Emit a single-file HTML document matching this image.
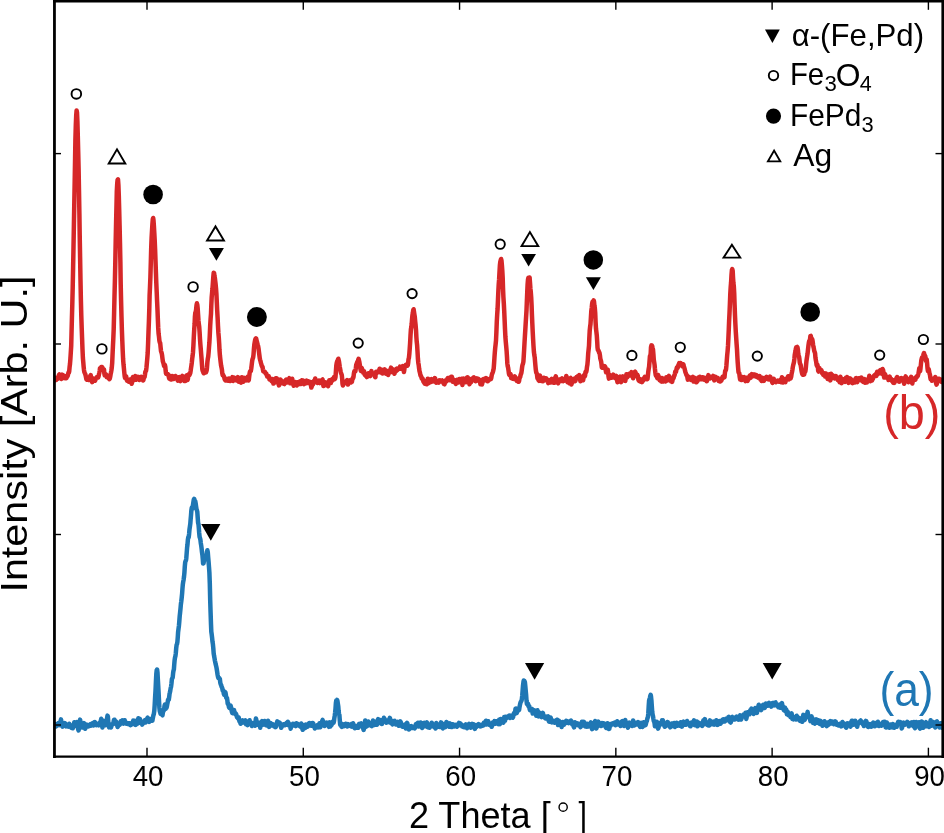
<!DOCTYPE html>
<html><head><meta charset="utf-8">
<style>
html,body{margin:0;padding:0;background:#fff;}
body{width:944px;height:833px;overflow:hidden;}
svg{display:block;will-change:transform;}
text{font-family:"Liberation Sans",sans-serif;}
</style></head>
<body>
<svg width="944" height="833" viewBox="0 0 944 833">
<defs><clipPath id="ax"><rect x="54.45" y="1.3" width="888.25" height="755.3"/></clipPath></defs>
<rect x="0" y="0" width="944" height="833" fill="#fff"/>
<g clip-path="url(#ax)">
<polyline points="52.0,379.2 52.4,379.2 52.8,378.2 53.2,377.2 53.6,377.0 54.0,377.3 54.4,379.2 54.8,380.4 55.1,378.7 55.5,378.1 55.9,379.4 56.3,379.8 56.7,378.6 57.1,377.6 57.5,378.7 57.9,378.8 58.3,377.2 58.7,376.0 59.0,375.0 59.4,374.5 59.8,375.2 60.2,376.3 60.6,377.0 61.0,378.3 61.4,378.9 61.8,376.7 62.2,374.6 62.6,376.0 63.0,378.1 63.3,377.4 63.7,376.0 64.1,375.8 64.5,375.9 64.9,377.0 65.3,378.2 65.7,377.3 66.1,377.6 66.5,378.1 66.9,376.8 67.2,376.2 67.6,376.2 68.0,374.6 68.4,372.6 68.8,372.8 69.2,371.4 69.6,367.0 70.0,363.9 70.4,358.8 70.8,352.3 71.2,346.0 71.5,334.2 71.9,318.7 72.3,304.3 72.7,287.8 73.1,268.1 73.5,247.0 73.9,224.6 74.3,202.7 74.7,180.6 75.1,158.1 75.4,139.5 75.8,125.4 76.2,115.5 76.6,110.5 77.0,112.4 77.4,121.4 77.8,135.7 78.2,151.7 78.6,168.6 79.0,190.5 79.4,213.8 79.7,234.9 80.1,257.4 80.5,280.2 80.9,300.3 81.3,315.9 81.7,327.9 82.1,338.7 82.5,349.4 82.9,358.0 83.3,362.5 83.6,366.2 84.0,370.1 84.4,372.3 84.8,373.1 85.2,373.8 85.6,375.3 86.0,377.2 86.4,379.3 86.8,379.6 87.2,379.1 87.6,379.1 87.9,379.3 88.3,379.9 88.7,380.0 89.1,378.9 89.5,378.0 89.9,377.6 90.3,375.8 90.7,375.2 91.1,377.0 91.5,378.2 91.8,380.7 92.2,382.2 92.6,379.6 93.0,378.4 93.4,379.9 93.8,380.4 94.2,379.7 94.6,379.7 95.0,380.8 95.4,380.0 95.8,378.2 96.1,378.3 96.5,378.0 96.9,377.1 97.3,376.9 97.7,376.9 98.1,377.4 98.5,376.6 98.9,374.6 99.3,372.9 99.7,370.8 100.0,368.1 100.4,368.0 100.8,368.1 101.2,367.0 101.6,367.1 102.0,367.0 102.4,367.6 102.8,368.5 103.2,369.7 103.6,369.4 104.0,369.5 104.3,373.2 104.7,375.3 105.1,374.3 105.5,374.0 105.9,374.3 106.3,375.5 106.7,377.3 107.1,377.3 107.5,376.7 107.9,376.5 108.2,375.9 108.6,376.9 109.0,378.8 109.4,379.1 109.8,378.6 110.2,376.8 110.6,374.3 111.0,372.5 111.4,370.4 111.8,367.4 112.2,362.8 112.5,355.8 112.9,347.0 113.3,338.9 113.7,329.1 114.1,313.2 114.5,296.0 114.9,280.6 115.3,262.2 115.7,240.8 116.1,222.0 116.5,204.9 116.8,191.3 117.2,183.8 117.6,179.8 118.0,179.4 118.4,184.9 118.8,195.7 119.2,209.7 119.6,225.9 120.0,243.3 120.4,263.3 120.7,284.1 121.1,301.4 121.5,316.7 121.9,330.2 122.3,340.9 122.7,350.7 123.1,359.0 123.5,364.3 123.9,368.3 124.3,372.6 124.7,376.2 125.0,377.7 125.4,377.4 125.8,376.1 126.2,376.5 126.6,379.5 127.0,380.6 127.4,379.8 127.8,380.2 128.2,381.2 128.6,381.6 128.9,380.9 129.3,380.5 129.7,380.4 130.1,379.5 130.5,380.2 130.9,381.5 131.3,382.5 131.7,383.8 132.1,382.2 132.5,378.0 132.9,377.2 133.2,379.0 133.6,378.9 134.0,379.6 134.4,379.8 134.8,376.7 135.2,376.0 135.6,378.7 136.0,379.8 136.4,379.5 136.8,379.0 137.1,377.5 137.5,376.9 137.9,377.7 138.3,377.1 138.7,377.0 139.1,379.1 139.5,380.0 139.9,379.3 140.3,377.9 140.7,377.0 141.1,376.8 141.4,377.4 141.8,378.1 142.2,378.2 142.6,378.9 143.0,380.5 143.4,380.2 143.8,377.9 144.2,377.4 144.6,377.0 145.0,374.5 145.3,371.9 145.7,371.3 146.1,370.6 146.5,367.3 146.9,362.7 147.3,358.3 147.7,353.0 148.1,343.4 148.5,331.9 148.9,321.6 149.3,308.7 149.6,295.7 150.0,286.9 150.4,277.1 150.8,262.7 151.2,248.0 151.6,237.8 152.0,230.9 152.4,224.1 152.8,219.2 153.2,218.0 153.5,220.4 153.9,226.0 154.3,232.9 154.7,240.1 155.1,249.3 155.5,260.5 155.9,272.2 156.3,283.0 156.7,292.0 157.1,301.5 157.5,310.1 157.8,318.0 158.2,327.7 158.6,333.8 159.0,336.7 159.4,340.8 159.8,342.5 160.2,343.1 160.6,347.2 161.0,351.1 161.4,352.3 161.7,353.2 162.1,355.4 162.5,358.7 162.9,361.6 163.3,362.7 163.7,364.2 164.1,366.1 164.5,365.8 164.9,365.0 165.3,366.7 165.7,371.1 166.0,373.6 166.4,373.9 166.8,374.1 167.2,374.0 167.6,374.2 168.0,374.3 168.4,374.8 168.8,376.7 169.2,378.6 169.6,378.2 169.9,376.7 170.3,375.8 170.7,377.2 171.1,379.6 171.5,379.5 171.9,378.0 172.3,376.7 172.7,376.2 173.1,377.8 173.5,379.0 173.9,378.1 174.2,377.5 174.6,377.9 175.0,377.2 175.4,376.0 175.8,376.3 176.2,377.6 176.6,378.4 177.0,378.3 177.4,379.6 177.8,380.6 178.1,378.5 178.5,377.4 178.9,378.1 179.3,377.7 179.7,377.2 180.1,379.6 180.5,381.1 180.9,379.1 181.3,377.1 181.7,376.9 182.1,377.1 182.4,375.9 182.8,376.6 183.2,378.5 183.6,378.4 184.0,379.9 184.4,381.0 184.8,379.7 185.2,380.2 185.6,380.8 186.0,378.4 186.3,375.8 186.7,375.4 187.1,377.7 187.5,380.1 187.9,378.8 188.3,375.6 188.7,374.3 189.1,374.7 189.5,374.9 189.9,374.0 190.3,372.9 190.6,371.1 191.0,368.2 191.4,365.6 191.8,362.6 192.2,358.8 192.6,355.9 193.0,352.2 193.4,345.6 193.8,337.0 194.2,329.8 194.6,324.0 194.9,317.0 195.3,312.8 195.7,312.0 196.1,309.6 196.5,305.5 196.9,303.3 197.3,304.8 197.7,308.6 198.1,314.8 198.5,321.0 198.8,323.9 199.2,326.6 199.6,332.1 200.0,339.1 200.4,344.7 200.8,349.4 201.2,354.4 201.6,359.3 202.0,365.1 202.4,369.7 202.8,371.0 203.1,371.5 203.5,372.8 203.9,373.3 204.3,373.1 204.7,372.6 205.1,371.0 205.5,371.1 205.9,372.4 206.3,371.6 206.7,370.2 207.0,367.4 207.4,362.0 207.8,358.7 208.2,356.8 208.6,352.6 209.0,347.4 209.4,342.3 209.8,334.8 210.2,325.6 210.6,318.9 211.0,313.8 211.3,305.5 211.7,297.1 212.1,292.6 212.5,288.3 212.9,282.6 213.3,276.9 213.7,272.8 214.1,273.1 214.5,276.2 214.9,278.2 215.2,280.7 215.6,284.0 216.0,288.1 216.4,293.6 216.8,302.1 217.2,310.7 217.6,317.7 218.0,326.2 218.4,333.0 218.8,337.7 219.2,343.7 219.5,350.0 219.9,355.3 220.3,359.0 220.7,362.4 221.1,365.6 221.5,367.4 221.9,369.6 222.3,373.4 222.7,375.3 223.1,374.8 223.4,375.7 223.8,376.3 224.2,377.1 224.6,378.9 225.0,379.9 225.4,380.4 225.8,379.7 226.2,379.5 226.6,379.2 227.0,379.0 227.4,380.1 227.7,380.6 228.1,380.7 228.5,379.7 228.9,378.5 229.3,379.3 229.7,380.9 230.1,381.0 230.5,379.7 230.9,378.5 231.3,378.4 231.6,379.3 232.0,378.1 232.4,377.2 232.8,379.9 233.2,380.9 233.6,378.4 234.0,377.5 234.4,378.0 234.8,378.8 235.2,379.8 235.6,379.3 235.9,379.5 236.3,380.4 236.7,380.3 237.1,380.1 237.5,378.8 237.9,377.1 238.3,378.6 238.7,381.7 239.1,381.7 239.5,380.8 239.8,380.9 240.2,380.9 240.6,382.2 241.0,382.6 241.4,379.5 241.8,377.2 242.2,377.4 242.6,378.7 243.0,381.4 243.4,381.7 243.8,379.0 244.1,377.9 244.5,380.2 244.9,380.4 245.3,378.1 245.7,378.6 246.1,380.1 246.5,380.3 246.9,379.2 247.3,377.8 247.7,376.8 248.0,377.9 248.4,380.5 248.8,379.9 249.2,376.6 249.6,373.4 250.0,371.4 250.4,371.4 250.8,371.0 251.2,368.9 251.6,365.7 252.0,362.3 252.3,360.1 252.7,358.6 253.1,357.7 253.5,354.8 253.9,349.1 254.3,344.6 254.7,342.4 255.1,340.2 255.5,338.8 255.9,338.4 256.2,338.7 256.6,340.5 257.0,342.2 257.4,343.7 257.8,345.2 258.2,346.5 258.6,348.9 259.0,352.2 259.4,355.4 259.8,358.5 260.2,360.1 260.5,361.1 260.9,362.9 261.3,364.1 261.7,365.6 262.1,366.5 262.5,366.7 262.9,369.3 263.3,371.4 263.7,371.5 264.1,371.5 264.4,371.5 264.8,371.6 265.2,372.5 265.6,373.4 266.0,373.7 266.4,373.8 266.8,375.3 267.2,376.4 267.6,376.2 268.0,376.7 268.4,376.7 268.7,376.2 269.1,377.9 269.5,379.4 269.9,379.7 270.3,379.5 270.7,378.7 271.1,379.4 271.5,381.0 271.9,381.4 272.3,380.0 272.7,379.1 273.0,381.3 273.4,383.6 273.8,383.4 274.2,381.1 274.6,379.9 275.0,381.5 275.4,380.1 275.8,378.2 276.2,379.3 276.6,378.9 276.9,378.4 277.3,380.8 277.7,382.7 278.1,382.2 278.5,383.0 278.9,385.4 279.3,385.0 279.7,382.5 280.1,380.5 280.5,379.5 280.9,380.3 281.2,382.2 281.6,382.7 282.0,383.0 282.4,382.8 282.8,381.5 283.2,381.8 283.6,383.3 284.0,383.9 284.4,384.1 284.8,383.0 285.1,382.0 285.5,381.6 285.9,379.7 286.3,379.5 286.7,381.6 287.1,382.5 287.5,381.2 287.9,379.7 288.3,380.0 288.7,380.4 289.1,378.9 289.4,378.2 289.8,380.7 290.2,383.3 290.6,382.8 291.0,381.5 291.4,382.2 291.8,381.3 292.2,378.8 292.6,380.5 293.0,383.3 293.3,384.6 293.7,385.7 294.1,385.1 294.5,383.6 294.9,383.4 295.3,383.1 295.7,382.0 296.1,382.4 296.5,384.8 296.9,385.4 297.3,383.3 297.6,382.2 298.0,383.4 298.4,384.2 298.8,384.2 299.2,383.6 299.6,381.9 300.0,381.3 300.4,382.5 300.8,384.0 301.2,383.3 301.5,380.4 301.9,380.3 302.3,381.7 302.7,380.7 303.1,380.6 303.5,383.1 303.9,384.1 304.3,383.1 304.7,382.8 305.1,383.3 305.5,383.5 305.8,383.1 306.2,381.3 306.6,380.7 307.0,381.6 307.4,382.0 307.8,383.0 308.2,382.5 308.6,381.3 309.0,381.6 309.4,382.5 309.7,382.9 310.1,381.8 310.5,382.1 310.9,385.2 311.3,387.6 311.7,386.6 312.1,383.9 312.5,383.7 312.9,384.5 313.3,382.5 313.7,381.0 314.0,382.1 314.4,382.4 314.8,380.4 315.2,378.5 315.6,379.7 316.0,381.7 316.4,381.6 316.8,381.7 317.2,382.9 317.6,383.0 317.9,382.6 318.3,382.1 318.7,381.2 319.1,380.5 319.5,381.4 319.9,383.1 320.3,382.5 320.7,381.0 321.1,381.1 321.5,382.2 321.9,382.0 322.2,379.8 322.6,379.5 323.0,382.7 323.4,386.1 323.8,385.2 324.2,383.2 324.6,384.5 325.0,385.3 325.4,383.0 325.8,382.4 326.1,383.9 326.5,384.1 326.9,383.1 327.3,383.2 327.7,385.6 328.1,386.2 328.5,384.5 328.9,382.1 329.3,380.2 329.7,381.4 330.1,382.5 330.4,383.0 330.8,383.0 331.2,380.8 331.6,379.6 332.0,380.6 332.4,380.7 332.8,380.0 333.2,379.7 333.6,378.0 334.0,377.2 334.3,378.9 334.7,379.2 335.1,378.6 335.5,377.0 335.9,371.4 336.3,365.7 336.7,363.1 337.1,361.6 337.5,361.0 337.9,359.8 338.3,358.7 338.6,359.8 339.0,361.5 339.4,364.3 339.8,367.1 340.2,369.2 340.6,371.4 341.0,373.1 341.4,373.9 341.8,375.1 342.2,379.1 342.5,383.8 342.9,385.5 343.3,384.7 343.7,382.8 344.1,382.1 344.5,383.2 344.9,382.6 345.3,381.5 345.7,381.5 346.1,381.5 346.5,381.3 346.8,380.7 347.2,380.1 347.6,382.1 348.0,384.6 348.4,383.1 348.8,381.8 349.2,382.8 349.6,382.2 350.0,380.4 350.4,381.0 350.8,382.5 351.1,382.0 351.5,382.0 351.9,381.9 352.3,379.7 352.7,378.1 353.1,378.2 353.5,377.1 353.9,373.4 354.3,371.4 354.7,371.7 355.0,371.6 355.4,371.2 355.8,368.5 356.2,364.9 356.6,364.0 357.0,362.8 357.4,361.6 357.8,361.7 358.2,359.9 358.6,358.9 359.0,360.4 359.3,361.7 359.7,364.1 360.1,366.9 360.5,369.4 360.9,370.9 361.3,369.5 361.7,368.0 362.1,368.9 362.5,369.7 362.9,370.9 363.2,372.7 363.6,371.8 364.0,371.2 364.4,373.5 364.8,374.9 365.2,375.1 365.6,375.6 366.0,375.9 366.4,376.3 366.8,377.1 367.2,376.8 367.5,376.2 367.9,374.9 368.3,373.2 368.7,373.5 369.1,374.6 369.5,374.0 369.9,374.2 370.3,376.1 370.7,375.0 371.1,371.8 371.4,371.1 371.8,372.8 372.2,373.5 372.6,373.3 373.0,373.4 373.4,373.7 373.8,373.9 374.2,373.3 374.6,374.0 375.0,376.9 375.4,377.2 375.7,373.7 376.1,371.7 376.5,372.6 376.9,373.1 377.3,372.0 377.7,371.8 378.1,372.2 378.5,371.1 378.9,370.7 379.3,370.2 379.6,368.7 380.0,369.1 380.4,371.3 380.8,372.4 381.2,371.2 381.6,369.6 382.0,371.1 382.4,373.5 382.8,373.5 383.2,371.8 383.6,371.3 383.9,371.9 384.3,370.8 384.7,369.3 385.1,370.9 385.5,373.2 385.9,373.7 386.3,372.9 386.7,372.2 387.1,371.9 387.5,371.0 387.8,372.2 388.2,374.9 388.6,373.4 389.0,370.7 389.4,370.6 389.8,372.0 390.2,372.2 390.6,369.6 391.0,367.6 391.4,368.9 391.8,370.2 392.1,371.3 392.5,372.2 392.9,371.9 393.3,370.5 393.7,369.5 394.1,371.7 394.5,373.7 394.9,372.3 395.3,370.5 395.7,371.0 396.0,371.2 396.4,369.1 396.8,368.7 397.2,370.1 397.6,370.0 398.0,369.0 398.4,368.7 398.8,368.6 399.2,368.5 399.6,367.6 400.0,366.7 400.3,368.0 400.7,368.7 401.1,367.1 401.5,367.4 401.9,367.8 402.3,366.7 402.7,366.2 403.1,366.7 403.5,369.4 403.9,372.0 404.2,370.5 404.6,367.5 405.0,366.2 405.4,365.3 405.8,364.9 406.2,365.5 406.6,364.5 407.0,365.0 407.4,365.7 407.8,365.2 408.2,362.6 408.5,359.4 408.9,358.0 409.3,354.3 409.7,349.0 410.1,343.2 410.5,335.7 410.9,329.5 411.3,327.2 411.7,323.8 412.1,318.6 412.4,315.4 412.8,313.2 413.2,310.3 413.6,309.2 414.0,311.8 414.4,314.5 414.8,316.9 415.2,321.4 415.6,325.1 416.0,329.9 416.4,337.3 416.7,341.6 417.1,344.9 417.5,351.3 417.9,358.5 418.3,362.8 418.7,365.0 419.1,368.4 419.5,371.2 419.9,372.5 420.3,374.6 420.6,375.8 421.0,376.1 421.4,377.1 421.8,378.6 422.2,379.0 422.6,378.7 423.0,379.8 423.4,381.6 423.8,382.1 424.2,382.7 424.6,383.3 424.9,383.8 425.3,383.7 425.7,381.8 426.1,381.1 426.5,382.2 426.9,384.3 427.3,383.1 427.7,378.7 428.1,378.7 428.5,381.7 428.9,383.0 429.2,382.5 429.6,381.7 430.0,382.0 430.4,382.1 430.8,382.0 431.2,380.8 431.6,379.1 432.0,379.6 432.4,380.7 432.8,381.5 433.1,380.8 433.5,379.9 433.9,380.3 434.3,379.4 434.7,378.1 435.1,378.3 435.5,380.3 435.9,382.4 436.3,382.7 436.7,382.3 437.1,382.4 437.4,381.7 437.8,381.3 438.2,382.5 438.6,382.6 439.0,381.1 439.4,380.4 439.8,380.7 440.2,380.4 440.6,380.6 441.0,381.5 441.3,381.5 441.7,380.8 442.1,380.5 442.5,381.2 442.9,381.5 443.3,382.1 443.7,383.7 444.1,384.1 444.5,384.3 444.9,383.1 445.3,380.5 445.6,380.3 446.0,381.4 446.4,381.4 446.8,380.9 447.2,379.4 447.6,378.2 448.0,377.9 448.4,378.0 448.8,379.5 449.2,379.7 449.5,379.3 449.9,380.3 450.3,380.2 450.7,378.0 451.1,376.8 451.5,376.9 451.9,376.8 452.3,379.3 452.7,381.7 453.1,381.0 453.5,380.1 453.8,379.7 454.2,380.1 454.6,380.6 455.0,381.0 455.4,382.8 455.8,383.8 456.2,382.4 456.6,380.5 457.0,380.0 457.4,380.8 457.7,381.5 458.1,381.8 458.5,382.5 458.9,381.8 459.3,379.1 459.7,379.6 460.1,381.6 460.5,380.4 460.9,379.3 461.3,378.9 461.7,378.8 462.0,381.7 462.4,384.9 462.8,383.2 463.2,379.4 463.6,378.5 464.0,380.3 464.4,381.3 464.8,379.8 465.2,379.8 465.6,382.0 465.9,382.2 466.3,380.0 466.7,377.9 467.1,377.4 467.5,377.2 467.9,377.7 468.3,379.8 468.7,380.7 469.1,382.2 469.5,384.3 469.9,382.7 470.2,380.5 470.6,381.8 471.0,382.3 471.4,379.8 471.8,378.7 472.2,378.7 472.6,379.3 473.0,379.9 473.4,377.6 473.8,377.3 474.1,379.3 474.5,380.2 474.9,380.8 475.3,380.9 475.7,381.2 476.1,380.5 476.5,378.4 476.9,378.5 477.3,379.6 477.7,380.3 478.1,380.2 478.4,378.9 478.8,379.5 479.2,381.3 479.6,380.9 480.0,381.1 480.4,384.2 480.8,383.9 481.2,380.1 481.6,381.4 482.0,384.4 482.3,383.2 482.7,380.9 483.1,379.7 483.5,379.1 483.9,379.1 484.3,379.7 484.7,380.4 485.1,379.7 485.5,378.3 485.9,378.0 486.3,378.4 486.6,378.5 487.0,379.7 487.4,381.3 487.8,381.2 488.2,380.8 488.6,380.4 489.0,379.6 489.4,378.9 489.8,379.0 490.2,378.8 490.5,378.4 490.9,379.1 491.3,377.8 491.7,375.3 492.1,373.9 492.5,373.1 492.9,371.9 493.3,370.4 493.7,368.5 494.1,363.0 494.5,356.9 494.8,352.6 495.2,348.0 495.6,344.6 496.0,340.5 496.4,332.0 496.8,321.5 497.2,314.3 497.6,308.5 498.0,299.4 498.4,290.3 498.7,284.6 499.1,279.4 499.5,272.0 499.9,265.2 500.3,261.8 500.7,260.2 501.1,259.0 501.5,260.6 501.9,265.1 502.3,270.6 502.7,277.8 503.0,287.8 503.4,297.0 503.8,303.2 504.2,310.6 504.6,319.9 505.0,329.2 505.4,337.0 505.8,342.0 506.2,346.2 506.6,350.9 507.0,357.0 507.3,363.2 507.7,366.2 508.1,367.7 508.5,370.3 508.9,373.4 509.3,375.0 509.7,375.2 510.1,374.7 510.5,373.9 510.9,376.1 511.2,378.1 511.6,376.3 512.0,376.8 512.4,378.6 512.8,378.0 513.2,377.6 513.6,378.4 514.0,379.0 514.4,377.7 514.8,376.4 515.2,377.1 515.5,377.5 515.9,377.9 516.3,379.5 516.7,380.7 517.1,380.3 517.5,379.5 517.9,380.6 518.3,381.7 518.7,381.8 519.1,380.9 519.4,378.6 519.8,377.7 520.2,377.0 520.6,374.9 521.0,374.0 521.4,372.8 521.8,369.9 522.2,366.5 522.6,364.6 523.0,363.7 523.4,361.6 523.7,357.1 524.1,350.3 524.5,343.0 524.9,336.3 525.3,330.0 525.7,323.1 526.1,316.9 526.5,310.3 526.9,300.3 527.3,290.8 527.6,284.4 528.0,279.4 528.4,277.7 528.8,278.7 529.2,277.6 529.6,277.5 530.0,282.7 530.4,288.4 530.8,292.1 531.2,297.4 531.6,305.3 531.9,314.2 532.3,323.1 532.7,331.7 533.1,339.2 533.5,346.1 533.9,351.9 534.3,355.0 534.7,357.3 535.1,362.1 535.5,366.6 535.8,369.7 536.2,372.4 536.6,373.0 537.0,374.4 537.4,377.9 537.8,379.0 538.2,379.0 538.6,380.2 539.0,380.8 539.4,378.3 539.8,375.4 540.1,376.2 540.5,377.5 540.9,377.8 541.3,379.8 541.7,380.9 542.1,378.9 542.5,379.0 542.9,381.3 543.3,379.5 543.7,377.8 544.0,379.4 544.4,380.0 544.8,379.6 545.2,380.0 545.6,379.0 546.0,378.3 546.4,379.9 546.8,380.5 547.2,379.7 547.6,379.8 548.0,381.9 548.3,383.1 548.7,381.7 549.1,381.2 549.5,380.6 549.9,380.2 550.3,381.4 550.7,382.5 551.1,382.4 551.5,380.8 551.9,378.9 552.2,379.1 552.6,380.6 553.0,382.0 553.4,382.5 553.8,382.1 554.2,382.7 554.6,382.8 555.0,380.2 555.4,377.2 555.8,376.3 556.2,378.2 556.5,380.5 556.9,380.7 557.3,381.4 557.7,382.7 558.1,383.3 558.5,382.4 558.9,380.3 559.3,379.6 559.7,380.0 560.1,379.8 560.4,379.3 560.8,380.6 561.2,380.9 561.6,378.8 562.0,378.4 562.4,378.9 562.8,380.1 563.2,381.1 563.6,380.9 564.0,379.8 564.4,379.0 564.7,379.8 565.1,380.2 565.5,380.4 565.9,378.7 566.3,375.9 566.7,377.2 567.1,380.6 567.5,382.2 567.9,381.4 568.3,379.3 568.6,379.0 569.0,382.0 569.4,383.2 569.8,380.8 570.2,378.3 570.6,378.0 571.0,381.6 571.4,384.4 571.8,383.3 572.2,382.2 572.6,380.6 572.9,379.6 573.3,379.9 573.7,378.7 574.1,378.7 574.5,380.4 574.9,381.2 575.3,381.0 575.7,379.8 576.1,377.9 576.5,377.2 576.8,378.2 577.2,377.6 577.6,376.3 578.0,376.4 578.4,376.6 578.8,375.6 579.2,375.1 579.6,376.2 580.0,378.6 580.4,381.2 580.8,381.1 581.1,377.9 581.5,377.7 581.9,379.5 582.3,378.9 582.7,379.2 583.1,380.3 583.5,378.1 583.9,375.1 584.3,375.0 584.7,376.4 585.1,375.6 585.4,372.4 585.8,371.5 586.2,372.1 586.6,370.2 587.0,366.8 587.4,364.6 587.8,360.1 588.2,353.6 588.6,349.8 589.0,345.8 589.3,338.3 589.7,330.8 590.1,326.9 590.5,324.1 590.9,317.7 591.3,311.1 591.7,308.0 592.1,303.9 592.5,301.8 592.9,302.1 593.3,301.3 593.6,300.3 594.0,301.5 594.4,305.4 594.8,307.7 595.2,312.6 595.6,322.2 596.0,328.8 596.4,332.1 596.8,335.6 597.2,341.6 597.5,347.5 597.9,350.1 598.3,350.3 598.7,351.1 599.1,352.6 599.5,352.9 599.9,355.1 600.3,358.5 600.7,360.0 601.1,361.4 601.5,364.3 601.8,367.4 602.2,367.7 602.6,366.9 603.0,366.9 603.4,365.9 603.8,366.6 604.2,367.7 604.6,366.8 605.0,366.5 605.4,367.3 605.7,370.2 606.1,372.2 606.5,371.2 606.9,370.7 607.3,370.2 607.7,369.6 608.1,371.6 608.5,376.4 608.9,378.6 609.3,376.3 609.7,374.8 610.0,375.6 610.4,376.3 610.8,377.1 611.2,377.5 611.6,377.7 612.0,377.6 612.4,376.6 612.8,375.3 613.2,374.7 613.6,375.1 613.9,375.7 614.3,376.3 614.7,376.9 615.1,378.2 615.5,378.2 615.9,376.4 616.3,375.9 616.7,377.4 617.1,380.3 617.5,382.2 617.9,380.9 618.2,380.0 618.6,379.6 619.0,378.9 619.4,379.5 619.8,377.2 620.2,376.6 620.6,381.8 621.0,382.2 621.4,378.7 621.8,378.3 622.1,378.8 622.5,377.9 622.9,376.4 623.3,377.1 623.7,379.0 624.1,380.0 624.5,380.3 624.9,380.8 625.3,380.9 625.7,378.7 626.1,376.3 626.4,374.2 626.8,375.1 627.2,377.3 627.6,376.6 628.0,376.3 628.4,375.5 628.8,373.9 629.2,373.7 629.6,373.7 630.0,374.1 630.3,375.4 630.7,375.0 631.1,372.8 631.5,372.1 631.9,373.1 632.3,374.1 632.7,376.4 633.1,378.2 633.5,376.3 633.9,373.9 634.3,372.8 634.6,372.0 635.0,371.7 635.4,372.2 635.8,373.3 636.2,374.8 636.6,375.9 637.0,375.7 637.4,374.8 637.8,375.8 638.2,378.6 638.5,380.1 638.9,380.7 639.3,381.0 639.7,380.3 640.1,379.2 640.5,380.9 640.9,381.7 641.3,379.5 641.7,380.5 642.1,382.1 642.5,381.0 642.8,381.0 643.2,380.6 643.6,379.1 644.0,378.4 644.4,377.5 644.8,376.8 645.2,377.3 645.6,378.1 646.0,378.8 646.4,377.8 646.7,377.2 647.1,379.2 647.5,378.9 647.9,375.4 648.3,371.6 648.7,368.9 649.1,366.6 649.5,361.6 649.9,356.3 650.3,355.7 650.7,353.3 651.0,347.2 651.4,345.4 651.8,345.5 652.2,346.1 652.6,348.0 653.0,349.5 653.4,354.2 653.8,359.8 654.2,362.3 654.6,365.0 654.9,368.5 655.3,372.2 655.7,375.0 656.1,375.9 656.5,376.4 656.9,376.8 657.3,378.1 657.7,377.0 658.1,375.0 658.5,376.3 658.9,377.1 659.2,378.7 659.6,380.1 660.0,377.8 660.4,377.8 660.8,380.5 661.2,381.4 661.6,381.6 662.0,380.1 662.4,378.1 662.8,379.3 663.2,381.5 663.5,381.4 663.9,379.9 664.3,379.2 664.7,378.7 665.1,379.7 665.5,381.5 665.9,379.8 666.3,377.3 666.7,378.2 667.1,380.3 667.4,380.5 667.8,379.0 668.2,378.2 668.6,377.5 669.0,375.9 669.4,376.7 669.8,378.9 670.2,379.2 670.6,380.0 671.0,381.3 671.4,380.5 671.7,380.6 672.1,381.9 672.5,380.4 672.9,378.4 673.3,378.6 673.7,377.6 674.1,375.7 674.5,375.4 674.9,373.7 675.3,371.5 675.6,371.8 676.0,371.8 676.4,369.6 676.8,367.6 677.2,367.7 677.6,368.0 678.0,366.5 678.4,365.1 678.8,364.5 679.2,363.1 679.6,363.7 679.9,364.7 680.3,363.0 680.7,363.0 681.1,364.6 681.5,364.1 681.9,364.2 682.3,366.2 682.7,366.3 683.1,364.2 683.5,364.7 683.8,366.4 684.2,367.4 684.6,368.6 685.0,370.6 685.4,372.3 685.8,373.0 686.2,374.5 686.6,375.5 687.0,375.4 687.4,377.4 687.8,379.7 688.1,378.6 688.5,377.1 688.9,376.9 689.3,377.2 689.7,378.9 690.1,379.5 690.5,378.1 690.9,378.8 691.3,380.0 691.7,379.3 692.0,378.3 692.4,377.3 692.8,376.9 693.2,379.4 693.6,381.5 694.0,379.8 694.4,377.8 694.8,378.0 695.2,379.1 695.6,380.2 696.0,381.4 696.3,382.3 696.7,381.9 697.1,381.6 697.5,381.0 697.9,379.3 698.3,377.6 698.7,378.1 699.1,378.9 699.5,377.5 699.9,376.8 700.2,378.8 700.6,379.1 701.0,378.3 701.4,378.5 701.8,379.1 702.2,378.8 702.6,377.2 703.0,377.4 703.4,379.2 703.8,379.5 704.2,378.5 704.5,377.7 704.9,377.7 705.3,379.5 705.7,380.2 706.1,379.7 706.5,381.2 706.9,381.2 707.3,379.8 707.7,379.1 708.1,376.7 708.4,375.1 708.8,376.1 709.2,377.6 709.6,378.2 710.0,378.4 710.4,377.6 710.8,376.8 711.2,377.5 711.6,377.2 712.0,377.1 712.4,377.5 712.7,376.5 713.1,375.9 713.5,376.9 713.9,378.9 714.3,380.4 714.7,379.7 715.1,377.7 715.5,376.8 715.9,377.7 716.3,377.7 716.6,377.5 717.0,379.1 717.4,378.7 717.8,377.9 718.2,379.6 718.6,380.9 719.0,380.8 719.4,380.7 719.8,380.6 720.2,381.5 720.6,381.3 720.9,380.4 721.3,380.7 721.7,379.8 722.1,378.1 722.5,376.9 722.9,377.6 723.3,377.8 723.7,376.6 724.1,377.1 724.5,377.2 724.8,374.1 725.2,370.7 725.6,370.6 726.0,369.6 726.4,365.7 726.8,360.4 727.2,355.1 727.6,351.1 728.0,345.9 728.4,337.9 728.8,328.9 729.1,321.1 729.5,313.3 729.9,303.9 730.3,293.7 730.7,287.0 731.1,282.3 731.5,274.9 731.9,270.1 732.3,269.1 732.7,271.0 733.0,277.1 733.4,282.9 733.8,286.0 734.2,292.9 734.6,304.8 735.0,315.5 735.4,324.3 735.8,331.9 736.2,337.9 736.6,344.0 737.0,349.3 737.3,355.6 737.7,362.4 738.1,367.6 738.5,372.1 738.9,373.0 739.3,373.4 739.7,377.0 740.1,379.5 740.5,378.0 740.9,376.4 741.3,378.5 741.6,380.0 742.0,378.1 742.4,377.9 742.8,379.6 743.2,378.9 743.6,377.2 744.0,377.1 744.4,377.8 744.8,378.9 745.2,380.1 745.5,381.1 745.9,379.7 746.3,377.7 746.7,379.1 747.1,380.8 747.5,380.9 747.9,380.3 748.3,378.2 748.7,377.8 749.1,378.7 749.5,376.4 749.8,375.6 750.2,377.9 750.6,377.8 751.0,376.3 751.4,374.9 751.8,374.2 752.2,374.8 752.6,376.3 753.0,375.8 753.4,374.5 753.7,375.3 754.1,374.7 754.5,374.5 754.9,376.2 755.3,375.3 755.7,374.9 756.1,376.6 756.5,375.9 756.9,375.5 757.3,377.1 757.7,377.5 758.0,376.8 758.4,376.5 758.8,376.5 759.2,376.8 759.6,376.0 760.0,377.0 760.4,379.5 760.8,379.0 761.2,379.3 761.6,381.0 761.9,379.4 762.3,377.7 762.7,378.0 763.1,378.2 763.5,380.2 763.9,380.8 764.3,378.6 764.7,378.0 765.1,379.0 765.5,378.8 765.9,378.4 766.2,378.2 766.6,376.8 767.0,377.3 767.4,378.6 767.8,379.2 768.2,379.0 768.6,378.6 769.0,379.5 769.4,379.4 769.8,377.8 770.1,376.6 770.5,377.4 770.9,378.8 771.3,378.7 771.7,379.9 772.1,381.9 772.5,382.9 772.9,382.4 773.3,379.7 773.7,378.8 774.1,380.6 774.4,381.6 774.8,381.5 775.2,381.4 775.6,382.0 776.0,382.2 776.4,381.7 776.8,381.2 777.2,380.8 777.6,380.5 778.0,380.9 778.3,380.9 778.7,380.9 779.1,381.7 779.5,381.5 779.9,381.0 780.3,380.1 780.7,380.7 781.1,382.1 781.5,379.8 781.9,377.3 782.3,377.7 782.6,380.3 783.0,382.6 783.4,382.1 783.8,380.4 784.2,379.2 784.6,379.9 785.0,382.0 785.4,382.1 785.8,380.3 786.2,380.1 786.5,379.6 786.9,378.3 787.3,378.5 787.7,377.3 788.1,376.2 788.5,378.5 788.9,379.5 789.3,377.1 789.7,376.7 790.1,378.5 790.5,378.5 790.8,378.0 791.2,376.6 791.6,373.8 792.0,372.0 792.4,369.8 792.8,367.2 793.2,365.1 793.6,363.6 794.0,362.0 794.4,358.8 794.7,355.2 795.1,353.0 795.5,351.0 795.9,348.4 796.3,347.2 796.7,347.1 797.1,346.9 797.5,347.4 797.9,349.8 798.3,354.1 798.7,356.2 799.0,356.4 799.4,358.9 799.8,362.8 800.2,363.9 800.6,364.7 801.0,367.1 801.4,370.0 801.8,372.2 802.2,373.8 802.6,374.7 802.9,373.9 803.3,373.2 803.7,373.8 804.1,374.6 804.5,373.0 804.9,371.4 805.3,371.6 805.7,369.2 806.1,364.5 806.5,360.6 806.9,357.9 807.2,356.0 807.6,353.4 808.0,349.4 808.4,345.9 808.8,343.0 809.2,341.0 809.6,341.2 810.0,339.6 810.4,336.1 810.8,335.9 811.1,337.6 811.5,338.4 811.9,338.7 812.3,339.5 812.7,341.7 813.1,344.9 813.5,347.1 813.9,348.8 814.3,351.1 814.7,352.0 815.1,353.4 815.4,357.3 815.8,360.0 816.2,361.9 816.6,365.0 817.0,366.1 817.4,364.7 817.8,366.4 818.2,370.8 818.6,371.6 819.0,369.1 819.4,368.1 819.7,369.2 820.1,369.5 820.5,369.6 820.9,370.5 821.3,370.1 821.7,371.0 822.1,373.1 822.5,372.9 822.9,373.3 823.3,374.9 823.6,375.0 824.0,374.0 824.4,373.3 824.8,374.2 825.2,376.5 825.6,375.8 826.0,373.5 826.4,374.5 826.8,376.2 827.2,377.5 827.6,379.0 827.9,378.2 828.3,375.8 828.7,374.5 829.1,374.4 829.5,375.8 829.9,378.6 830.3,380.4 830.7,377.3 831.1,373.7 831.5,374.8 831.8,376.1 832.2,375.2 832.6,375.3 833.0,376.9 833.4,378.0 833.8,377.5 834.2,377.5 834.6,378.5 835.0,378.0 835.4,376.7 835.8,376.0 836.1,377.3 836.5,378.2 836.9,377.3 837.3,378.5 837.7,380.0 838.1,379.5 838.5,378.8 838.9,379.1 839.3,381.4 839.7,382.2 840.0,379.6 840.4,376.8 840.8,377.9 841.2,381.6 841.6,383.1 842.0,382.4 842.4,381.5 842.8,379.9 843.2,379.4 843.6,380.2 844.0,379.6 844.3,379.0 844.7,381.3 845.1,381.8 845.5,378.6 845.9,377.8 846.3,379.3 846.7,378.0 847.1,377.1 847.5,379.8 847.9,380.7 848.2,381.2 848.6,382.9 849.0,381.4 849.4,379.4 849.8,379.2 850.2,378.4 850.6,378.8 851.0,379.9 851.4,379.5 851.8,380.5 852.2,382.9 852.5,383.2 852.9,382.4 853.3,381.9 853.7,382.3 854.1,382.6 854.5,382.6 854.9,382.2 855.3,380.1 855.7,378.4 856.1,378.1 856.4,379.3 856.8,381.8 857.2,382.2 857.6,380.4 858.0,379.7 858.4,379.4 858.8,378.3 859.2,378.3 859.6,378.5 860.0,378.1 860.4,379.3 860.7,380.0 861.1,378.8 861.5,377.6 861.9,379.0 862.3,381.0 862.7,380.8 863.1,381.9 863.5,381.9 863.9,379.4 864.3,379.2 864.6,382.1 865.0,382.7 865.4,379.9 865.8,379.8 866.2,381.6 866.6,382.6 867.0,382.6 867.4,380.9 867.8,379.3 868.2,379.8 868.6,381.1 868.9,378.4 869.3,375.8 869.7,377.4 870.1,380.0 870.5,381.1 870.9,379.4 871.3,378.5 871.7,380.0 872.1,380.3 872.5,379.2 872.8,378.9 873.2,378.1 873.6,376.5 874.0,376.0 874.4,375.2 874.8,375.0 875.2,375.0 875.6,374.3 876.0,375.5 876.4,375.8 876.8,373.4 877.1,371.8 877.5,372.3 877.9,373.5 878.3,373.8 878.7,373.6 879.1,373.0 879.5,371.8 879.9,370.5 880.3,370.1 880.7,371.7 881.0,372.1 881.4,372.1 881.8,373.7 882.2,372.0 882.6,369.1 883.0,369.8 883.4,371.8 883.8,375.5 884.2,377.5 884.6,375.1 885.0,374.0 885.3,374.8 885.7,376.0 886.1,377.6 886.5,377.6 886.9,377.0 887.3,377.6 887.7,377.1 888.1,378.0 888.5,380.0 888.9,379.2 889.2,377.1 889.6,376.7 890.0,377.7 890.4,379.4 890.8,379.9 891.2,378.8 891.6,379.7 892.0,381.2 892.4,381.3 892.8,382.0 893.2,382.7 893.5,382.4 893.9,382.1 894.3,382.8 894.7,381.8 895.1,379.8 895.5,380.7 895.9,380.7 896.3,379.2 896.7,377.7 897.1,377.0 897.5,378.2 897.8,379.7 898.2,379.7 898.6,379.8 899.0,381.7 899.4,381.7 899.8,379.9 900.2,378.9 900.6,378.2 901.0,378.1 901.4,379.1 901.7,380.1 902.1,379.4 902.5,378.4 902.9,378.7 903.3,379.3 903.7,381.5 904.1,383.7 904.5,382.5 904.9,379.5 905.3,377.2 905.7,376.4 906.0,377.8 906.4,379.9 906.8,380.1 907.2,379.7 907.6,379.8 908.0,381.2 908.4,382.1 908.8,380.3 909.2,379.1 909.6,379.8 909.9,380.5 910.3,378.9 910.7,377.3 911.1,376.8 911.5,377.9 911.9,381.8 912.3,383.5 912.7,381.3 913.1,381.0 913.5,380.3 913.9,378.4 914.2,378.4 914.6,378.5 915.0,379.4 915.4,379.7 915.8,377.3 916.2,377.3 916.6,377.5 917.0,376.0 917.4,376.0 917.8,376.0 918.1,374.6 918.5,373.4 918.9,370.8 919.3,368.2 919.7,370.2 920.1,371.2 920.5,368.4 920.9,364.4 921.3,360.5 921.7,358.7 922.1,357.4 922.4,357.2 922.8,357.4 923.2,355.8 923.6,353.9 924.0,353.1 924.4,354.6 924.8,356.1 925.2,355.9 925.6,358.2 926.0,360.8 926.3,359.8 926.7,359.6 927.1,363.0 927.5,368.1 927.9,371.0 928.3,370.1 928.7,369.1 929.1,371.2 929.5,373.4 929.9,374.5 930.3,377.4 930.6,379.0 931.0,378.4 931.4,379.0 931.8,380.7 932.2,380.6 932.6,379.5 933.0,380.1 933.4,379.5 933.8,378.7 934.2,379.6 934.5,379.3 934.9,377.8 935.3,377.0 935.7,379.1 936.1,383.2 936.5,384.7 936.9,383.7 937.3,382.4 937.7,380.7 938.1,380.4 938.5,380.3 938.8,378.8 939.2,378.7 939.6,380.0 940.0,379.7 940.4,379.4 940.8,380.4 941.2,381.4 941.6,382.0 942.0,381.3 942.4,380.5 942.7,380.7 943.1,380.2 943.5,379.6 943.9,380.4 944.3,382.1 944.7,383.1 945.1,383.1" fill="none" stroke="#d62728" stroke-width="4.5" stroke-linejoin="round" stroke-linecap="round"/>
<polyline points="52.0,721.9 52.4,722.5 52.8,723.8 53.2,724.1 53.6,723.6 54.0,724.0 54.4,725.3 54.8,724.5 55.1,724.0 55.5,726.2 55.9,726.4 56.3,725.0 56.7,724.8 57.1,724.9 57.5,725.5 57.9,724.5 58.3,723.1 58.7,723.1 59.0,723.5 59.4,724.5 59.8,725.1 60.2,724.5 60.6,721.5 61.0,719.4 61.4,721.1 61.8,722.4 62.2,724.6 62.6,726.6 63.0,725.6 63.3,724.3 63.7,724.2 64.1,724.1 64.5,723.6 64.9,723.0 65.3,724.0 65.7,725.8 66.1,726.3 66.5,726.0 66.9,725.3 67.2,724.7 67.6,725.0 68.0,726.0 68.4,726.5 68.8,725.4 69.2,723.7 69.6,724.6 70.0,726.5 70.4,725.6 70.8,725.4 71.2,727.6 71.5,727.9 71.9,726.2 72.3,726.5 72.7,728.3 73.1,727.6 73.5,726.0 73.9,724.3 74.3,722.2 74.7,722.6 75.1,725.1 75.4,725.8 75.8,724.3 76.2,722.5 76.6,722.2 77.0,722.8 77.4,723.6 77.8,726.3 78.2,729.4 78.6,730.5 79.0,728.0 79.4,724.5 79.7,721.4 80.1,719.6 80.5,722.1 80.9,725.4 81.3,727.0 81.7,727.3 82.1,726.7 82.5,726.5 82.9,727.4 83.3,727.1 83.6,724.7 84.0,723.1 84.4,724.4 84.8,727.6 85.2,728.8 85.6,726.5 86.0,724.4 86.4,724.6 86.8,725.2 87.2,725.1 87.6,725.4 87.9,725.6 88.3,725.6 88.7,726.3 89.1,725.9 89.5,724.9 89.9,724.5 90.3,725.0 90.7,725.7 91.1,725.4 91.5,725.0 91.8,723.7 92.2,723.3 92.6,724.5 93.0,724.6 93.4,725.4 93.8,724.8 94.2,722.2 94.6,722.1 95.0,722.9 95.4,722.5 95.8,723.1 96.1,724.8 96.5,725.1 96.9,724.7 97.3,724.5 97.7,724.2 98.1,723.8 98.5,724.4 98.9,725.3 99.3,724.6 99.7,723.0 100.0,722.3 100.4,722.5 100.8,721.0 101.2,718.8 101.6,719.7 102.0,724.5 102.4,727.4 102.8,725.7 103.2,724.7 103.6,723.2 104.0,721.0 104.3,722.1 104.7,724.2 105.1,725.3 105.5,724.1 105.9,722.5 106.3,722.7 106.7,721.3 107.1,718.0 107.5,715.6 107.9,716.6 108.2,720.8 108.6,725.5 109.0,727.4 109.4,726.3 109.8,725.5 110.2,726.3 110.6,727.1 111.0,727.4 111.4,726.3 111.8,724.5 112.2,724.1 112.5,724.3 112.9,724.3 113.3,723.6 113.7,721.2 114.1,719.7 114.5,719.8 114.9,720.4 115.3,722.2 115.7,722.4 116.1,721.6 116.5,723.8 116.8,725.1 117.2,725.2 117.6,727.0 118.0,726.2 118.4,723.7 118.8,724.2 119.2,724.9 119.6,724.8 120.0,724.3 120.4,722.5 120.7,721.3 121.1,721.1 121.5,721.5 121.9,721.5 122.3,720.4 122.7,721.1 123.1,723.1 123.5,723.6 123.9,722.2 124.3,720.2 124.7,720.3 125.0,721.7 125.4,722.2 125.8,722.8 126.2,723.7 126.6,723.5 127.0,722.9 127.4,723.4 127.8,723.5 128.2,723.4 128.6,724.3 128.9,724.3 129.3,723.3 129.7,723.2 130.1,724.1 130.5,725.1 130.9,724.9 131.3,724.4 131.7,724.2 132.1,724.2 132.5,724.3 132.9,722.0 133.2,720.6 133.6,723.0 134.0,722.7 134.4,720.8 134.8,720.7 135.2,722.5 135.6,724.9 136.0,723.3 136.4,720.8 136.8,721.6 137.1,723.3 137.5,723.7 137.9,720.4 138.3,718.3 138.7,720.3 139.1,721.2 139.5,719.6 139.9,718.9 140.3,722.1 140.7,723.0 141.1,721.1 141.4,721.6 141.8,723.3 142.2,724.7 142.6,723.7 143.0,722.3 143.4,723.2 143.8,722.5 144.2,721.5 144.6,721.6 145.0,719.9 145.3,719.9 145.7,722.5 146.1,721.7 146.5,720.3 146.9,720.0 147.3,718.2 147.7,717.7 148.1,718.9 148.5,719.8 148.9,721.2 149.3,721.9 149.6,721.0 150.0,721.2 150.4,720.7 150.8,719.3 151.2,718.9 151.6,719.4 152.0,720.7 152.4,720.6 152.8,718.2 153.2,716.2 153.5,715.2 153.9,713.6 154.3,710.8 154.7,704.8 155.1,697.4 155.5,690.8 155.9,682.1 156.3,674.0 156.7,670.3 157.1,669.5 157.5,672.5 157.8,678.7 158.2,685.3 158.6,692.5 159.0,700.6 159.4,707.9 159.8,711.3 160.2,712.4 160.6,713.8 161.0,713.7 161.4,713.6 161.7,714.0 162.1,714.7 162.5,715.3 162.9,712.4 163.3,710.1 163.7,710.8 164.1,709.6 164.5,706.1 164.9,704.5 165.3,707.3 165.7,708.9 166.0,708.0 166.4,707.9 166.8,706.8 167.2,704.6 167.6,702.6 168.0,700.1 168.4,699.3 168.8,699.6 169.2,696.9 169.6,693.6 169.9,692.5 170.3,690.5 170.7,688.0 171.1,686.6 171.5,683.3 171.9,679.0 172.3,678.2 172.7,677.4 173.1,673.2 173.5,670.6 173.9,669.3 174.2,665.2 174.6,660.3 175.0,657.6 175.4,656.2 175.8,653.3 176.2,648.3 176.6,644.9 177.0,644.2 177.4,641.9 177.8,636.9 178.1,632.1 178.5,629.0 178.9,626.0 179.3,621.5 179.7,616.2 180.1,612.6 180.5,608.6 180.9,604.1 181.3,601.2 181.7,597.7 182.1,593.6 182.4,589.4 182.8,584.6 183.2,581.9 183.6,579.8 184.0,576.9 184.4,572.8 184.8,566.5 185.2,562.2 185.6,561.1 186.0,560.3 186.3,558.2 186.7,552.9 187.1,547.6 187.5,544.4 187.9,539.5 188.3,537.0 188.7,537.3 189.1,533.9 189.5,529.3 189.9,526.7 190.3,523.8 190.6,519.8 191.0,515.4 191.4,510.0 191.8,507.6 192.2,509.1 192.6,508.3 193.0,504.8 193.4,502.0 193.8,499.6 194.2,498.9 194.6,500.3 194.9,500.9 195.3,501.3 195.7,503.6 196.1,506.5 196.5,509.1 196.9,510.3 197.3,511.9 197.7,517.5 198.1,522.8 198.5,524.4 198.8,527.7 199.2,533.0 199.6,536.9 200.0,538.2 200.4,539.7 200.8,543.1 201.2,545.5 201.6,548.5 202.0,552.2 202.4,554.8 202.8,559.4 203.1,563.5 203.5,563.3 203.9,561.4 204.3,559.5 204.7,558.4 205.1,558.3 205.5,558.2 205.9,557.9 206.3,557.4 206.7,555.5 207.0,552.3 207.4,550.3 207.8,552.5 208.2,557.4 208.6,562.0 209.0,567.1 209.4,572.7 209.8,583.3 210.2,600.2 210.6,612.7 211.0,624.3 211.3,631.7 211.7,634.4 212.1,637.8 212.5,641.7 212.9,644.1 213.3,648.3 213.7,653.6 214.1,656.0 214.5,658.1 214.9,660.6 215.2,662.0 215.6,663.9 216.0,665.5 216.4,667.2 216.8,669.5 217.2,672.1 217.6,674.9 218.0,676.8 218.4,678.0 218.8,678.1 219.2,678.4 219.5,678.3 219.9,679.2 220.3,682.7 220.7,684.3 221.1,684.8 221.5,686.6 221.9,687.2 222.3,688.3 222.7,690.5 223.1,690.3 223.4,690.4 223.8,693.7 224.2,694.8 224.6,693.3 225.0,692.3 225.4,692.2 225.8,694.4 226.2,697.6 226.6,698.2 227.0,698.0 227.4,700.7 227.7,703.7 228.1,703.4 228.5,704.2 228.9,707.0 229.3,707.8 229.7,707.1 230.1,706.2 230.5,705.5 230.9,706.6 231.3,708.7 231.6,710.5 232.0,712.1 232.4,713.1 232.8,713.3 233.2,712.8 233.6,710.9 234.0,710.1 234.4,711.8 234.8,713.0 235.2,713.8 235.6,714.3 235.9,713.8 236.3,714.4 236.7,716.4 237.1,717.3 237.5,717.5 237.9,718.4 238.3,718.0 238.7,717.4 239.1,719.8 239.5,721.6 239.8,720.8 240.2,721.9 240.6,723.7 241.0,722.6 241.4,721.6 241.8,722.8 242.2,722.0 242.6,720.4 243.0,720.9 243.4,721.8 243.8,721.6 244.1,722.1 244.5,722.7 244.9,720.8 245.3,720.4 245.7,722.8 246.1,724.3 246.5,723.4 246.9,722.3 247.3,723.5 247.7,725.1 248.0,724.5 248.4,722.4 248.8,722.1 249.2,721.6 249.6,720.2 250.0,721.8 250.4,723.9 250.8,722.9 251.2,722.6 251.6,724.7 252.0,726.0 252.3,724.9 252.7,723.1 253.1,723.6 253.5,724.5 253.9,722.9 254.3,722.8 254.7,725.4 255.1,725.7 255.5,721.5 255.9,718.5 256.2,719.5 256.6,721.5 257.0,723.5 257.4,724.6 257.8,723.7 258.2,723.0 258.6,723.1 259.0,722.8 259.4,722.9 259.8,724.9 260.2,727.8 260.5,726.4 260.9,722.8 261.3,721.9 261.7,721.7 262.1,721.1 262.5,721.5 262.9,723.2 263.3,724.6 263.7,723.6 264.1,721.9 264.4,721.0 264.8,721.6 265.2,723.2 265.6,724.6 266.0,725.2 266.4,724.9 266.8,725.4 267.2,725.3 267.6,723.1 268.0,720.7 268.4,721.7 268.7,725.4 269.1,726.9 269.5,726.1 269.9,725.3 270.3,724.1 270.7,723.1 271.1,723.9 271.5,725.5 271.9,725.4 272.3,724.1 272.7,724.2 273.0,725.2 273.4,724.7 273.8,724.7 274.2,726.4 274.6,726.0 275.0,725.7 275.4,727.2 275.8,726.9 276.2,725.5 276.6,724.5 276.9,723.0 277.3,721.4 277.7,721.9 278.1,723.4 278.5,723.3 278.9,723.7 279.3,723.3 279.7,722.6 280.1,723.9 280.5,725.3 280.9,726.9 281.2,727.8 281.6,727.0 282.0,725.8 282.4,725.0 282.8,725.4 283.2,725.1 283.6,724.2 284.0,724.3 284.4,724.8 284.8,725.3 285.1,725.2 285.5,723.9 285.9,724.0 286.3,724.2 286.7,722.7 287.1,724.0 287.5,724.8 287.9,721.8 288.3,722.6 288.7,724.3 289.1,724.9 289.4,725.6 289.8,724.2 290.2,726.2 290.6,728.7 291.0,727.2 291.4,725.6 291.8,724.8 292.2,724.6 292.6,724.8 293.0,723.9 293.3,724.6 293.7,725.5 294.1,724.0 294.5,724.0 294.9,724.2 295.3,724.2 295.7,726.1 296.1,725.4 296.5,723.3 296.9,723.6 297.3,723.7 297.6,723.9 298.0,724.4 298.4,725.0 298.8,725.6 299.2,725.6 299.6,726.1 300.0,726.5 300.4,726.1 300.8,724.8 301.2,723.5 301.5,723.8 301.9,726.0 302.3,728.5 302.7,729.8 303.1,728.8 303.5,726.5 303.9,725.6 304.3,725.8 304.7,726.6 305.1,728.0 305.5,727.1 305.8,724.4 306.2,724.8 306.6,727.0 307.0,726.6 307.4,726.1 307.8,726.6 308.2,725.5 308.6,724.4 309.0,723.2 309.4,723.0 309.7,724.4 310.1,724.0 310.5,723.3 310.9,724.5 311.3,725.8 311.7,725.8 312.1,724.2 312.5,723.1 312.9,723.1 313.3,723.5 313.7,725.1 314.0,726.1 314.4,727.0 314.8,728.5 315.2,727.9 315.6,726.7 316.0,725.9 316.4,725.9 316.8,727.3 317.2,726.7 317.6,725.1 317.9,726.3 318.3,727.4 318.7,727.3 319.1,725.8 319.5,723.2 319.9,724.2 320.3,727.2 320.7,726.0 321.1,723.8 321.5,724.6 321.9,723.9 322.2,721.0 322.6,719.9 323.0,721.8 323.4,724.6 323.8,725.3 324.2,725.2 324.6,726.0 325.0,724.9 325.4,722.7 325.8,722.9 326.1,723.1 326.5,722.7 326.9,723.6 327.3,724.6 327.7,723.9 328.1,722.8 328.5,725.0 328.9,726.9 329.3,724.0 329.7,722.4 330.1,724.8 330.4,726.5 330.8,725.4 331.2,724.5 331.6,725.0 332.0,723.5 332.4,721.8 332.8,722.0 333.2,722.7 333.6,722.8 334.0,721.0 334.3,718.4 334.7,715.9 335.1,712.8 335.5,708.6 335.9,702.9 336.3,700.4 336.7,700.7 337.1,699.9 337.5,701.2 337.9,704.1 338.3,706.6 338.6,710.8 339.0,713.9 339.4,715.0 339.8,720.3 340.2,724.9 340.6,724.2 341.0,724.0 341.4,726.4 341.8,726.8 342.2,724.5 342.5,724.2 342.9,725.3 343.3,725.9 343.7,726.2 344.1,725.9 344.5,725.1 344.9,724.6 345.3,723.9 345.7,723.8 346.1,724.5 346.5,724.2 346.8,724.7 347.2,726.5 347.6,725.2 348.0,724.1 348.4,725.4 348.8,725.4 349.2,725.5 349.6,725.8 350.0,725.8 350.4,725.3 350.8,724.7 351.1,726.4 351.5,726.6 351.9,723.7 352.3,724.2 352.7,725.2 353.1,723.3 353.5,724.2 353.9,727.1 354.3,727.7 354.7,728.2 355.0,727.5 355.4,726.1 355.8,726.4 356.2,727.3 356.6,727.6 357.0,726.8 357.4,725.9 357.8,726.5 358.2,727.8 358.6,726.6 359.0,724.0 359.3,723.9 359.7,724.8 360.1,724.3 360.5,723.6 360.9,723.4 361.3,724.4 361.7,726.2 362.1,726.7 362.5,727.2 362.9,727.8 363.2,728.5 363.6,729.9 364.0,728.8 364.4,725.9 364.8,722.6 365.2,720.5 365.6,722.8 366.0,726.2 366.4,726.5 366.8,725.3 367.2,726.0 367.5,725.9 367.9,723.5 368.3,721.5 368.7,722.5 369.1,724.3 369.5,724.9 369.9,723.9 370.3,723.1 370.7,724.9 371.1,725.8 371.4,725.7 371.8,726.1 372.2,725.7 372.6,723.2 373.0,720.5 373.4,721.3 373.8,724.4 374.2,724.9 374.6,723.2 375.0,722.2 375.4,722.4 375.7,722.3 376.1,721.5 376.5,722.5 376.9,724.8 377.3,723.4 377.7,720.3 378.1,719.1 378.5,720.3 378.9,722.6 379.3,722.8 379.6,721.6 380.0,720.9 380.4,720.0 380.8,720.2 381.2,722.2 381.6,723.9 382.0,723.9 382.4,721.3 382.8,720.5 383.2,721.5 383.6,719.8 383.9,717.8 384.3,718.3 384.7,720.1 385.1,720.9 385.5,721.2 385.9,722.3 386.3,722.6 386.7,721.5 387.1,720.5 387.5,720.4 387.8,721.6 388.2,722.1 388.6,721.5 389.0,721.0 389.4,719.5 389.8,717.9 390.2,718.9 390.6,721.5 391.0,723.1 391.4,723.5 391.8,722.8 392.1,723.3 392.5,724.3 392.9,723.2 393.3,721.2 393.7,721.0 394.1,721.1 394.5,720.9 394.9,722.6 395.3,723.5 395.7,723.6 396.0,724.5 396.4,723.2 396.8,721.9 397.2,721.7 397.6,721.9 398.0,723.0 398.4,724.5 398.8,725.8 399.2,725.6 399.6,724.4 400.0,722.6 400.3,721.4 400.7,722.0 401.1,723.2 401.5,724.6 401.9,725.7 402.3,726.8 402.7,726.8 403.1,726.0 403.5,725.3 403.9,725.3 404.2,726.1 404.6,725.7 405.0,724.6 405.4,726.6 405.8,728.5 406.2,726.2 406.6,723.9 407.0,722.8 407.4,723.3 407.8,725.6 408.2,726.1 408.5,726.7 408.9,729.5 409.3,729.2 409.7,726.4 410.1,726.4 410.5,727.0 410.9,726.5 411.3,726.2 411.7,726.6 412.1,727.9 412.4,727.5 412.8,727.1 413.2,727.9 413.6,727.7 414.0,726.8 414.4,727.3 414.8,728.3 415.2,727.2 415.6,725.1 416.0,724.0 416.4,723.7 416.7,723.8 417.1,725.0 417.5,724.5 417.9,722.8 418.3,724.5 418.7,726.5 419.1,725.5 419.5,725.1 419.9,726.1 420.3,724.6 420.6,722.6 421.0,723.2 421.4,725.4 421.8,727.6 422.2,727.9 422.6,725.8 423.0,723.6 423.4,723.2 423.8,723.7 424.2,723.4 424.6,723.0 424.9,724.9 425.3,726.3 425.7,726.0 426.1,725.4 426.5,723.5 426.9,722.4 427.3,724.4 427.7,727.3 428.1,727.4 428.5,726.4 428.9,726.6 429.2,726.9 429.6,727.7 430.0,726.9 430.4,725.8 430.8,725.7 431.2,724.4 431.6,722.7 432.0,723.1 432.4,724.8 432.8,725.6 433.1,725.1 433.5,725.9 433.9,726.9 434.3,725.4 434.7,725.1 435.1,727.7 435.5,728.5 435.9,725.7 436.3,723.0 436.7,723.9 437.1,725.9 437.4,727.0 437.8,726.7 438.2,725.2 438.6,725.1 439.0,726.0 439.4,726.8 439.8,727.0 440.2,726.4 440.6,724.4 441.0,722.4 441.3,722.6 441.7,723.2 442.1,724.5 442.5,727.3 442.9,728.3 443.3,726.1 443.7,724.2 444.1,724.2 444.5,725.5 444.9,727.2 445.3,727.2 445.6,726.1 446.0,723.9 446.4,722.0 446.8,722.3 447.2,723.7 447.6,725.3 448.0,725.3 448.4,724.2 448.8,725.5 449.2,726.7 449.5,724.6 449.9,723.4 450.3,724.1 450.7,724.1 451.1,724.8 451.5,727.1 451.9,727.0 452.3,724.2 452.7,724.3 453.1,725.5 453.5,725.3 453.8,724.9 454.2,725.6 454.6,726.3 455.0,725.4 455.4,725.0 455.8,725.4 456.2,725.5 456.6,726.0 457.0,726.7 457.4,726.2 457.7,725.6 458.1,724.8 458.5,723.5 458.9,722.9 459.3,723.6 459.7,724.5 460.1,723.9 460.5,723.6 460.9,725.4 461.3,725.1 461.7,724.5 462.0,726.5 462.4,726.5 462.8,726.0 463.2,726.8 463.6,725.8 464.0,726.1 464.4,727.2 464.8,725.3 465.2,725.0 465.6,725.7 465.9,724.4 466.3,724.7 466.7,727.4 467.1,728.2 467.5,725.7 467.9,725.1 468.3,726.2 468.7,725.0 469.1,723.9 469.5,725.1 469.9,726.0 470.2,726.7 470.6,727.7 471.0,727.6 471.4,726.6 471.8,725.1 472.2,723.8 472.6,724.4 473.0,725.1 473.4,724.8 473.8,724.4 474.1,725.1 474.5,728.1 474.9,728.8 475.3,726.3 475.7,725.2 476.1,725.9 476.5,726.9 476.9,726.5 477.3,725.3 477.7,724.8 478.1,724.3 478.4,724.1 478.8,724.7 479.2,724.8 479.6,725.2 480.0,726.2 480.4,726.4 480.8,726.3 481.2,725.6 481.6,724.7 482.0,724.8 482.3,725.0 482.7,724.9 483.1,725.6 483.5,724.6 483.9,722.8 484.3,722.7 484.7,723.6 485.1,723.8 485.5,722.0 485.9,720.7 486.3,722.6 486.6,724.6 487.0,723.8 487.4,723.3 487.8,722.4 488.2,721.2 488.6,723.0 489.0,724.7 489.4,725.0 489.8,725.0 490.2,724.2 490.5,723.5 490.9,723.6 491.3,725.3 491.7,726.8 492.1,725.6 492.5,723.7 492.9,722.3 493.3,723.0 493.7,724.1 494.1,722.2 494.5,721.2 494.8,722.1 495.2,723.7 495.6,723.7 496.0,721.2 496.4,722.1 496.8,723.1 497.2,721.1 497.6,721.1 498.0,723.5 498.4,724.0 498.7,720.8 499.1,719.8 499.5,723.0 499.9,724.1 500.3,720.5 500.7,719.0 501.1,721.5 501.5,722.4 501.9,722.2 502.3,721.1 502.7,719.6 503.0,720.4 503.4,722.7 503.8,721.4 504.2,717.1 504.6,717.9 505.0,720.8 505.4,718.8 505.8,716.7 506.2,717.6 506.6,718.1 507.0,717.5 507.3,716.9 507.7,716.5 508.1,716.7 508.5,716.7 508.9,715.7 509.3,715.5 509.7,716.8 510.1,717.9 510.5,717.0 510.9,715.9 511.2,716.1 511.6,716.5 512.0,716.7 512.4,717.0 512.8,717.7 513.2,716.8 513.6,714.0 514.0,713.2 514.4,714.2 514.8,713.8 515.2,711.5 515.5,708.7 515.9,708.5 516.3,711.2 516.7,713.1 517.1,711.7 517.5,710.2 517.9,710.6 518.3,710.4 518.7,710.3 519.1,709.8 519.4,707.9 519.8,705.7 520.2,703.7 520.6,702.3 521.0,701.5 521.4,701.1 521.8,699.4 522.2,696.0 522.6,690.9 523.0,685.7 523.4,682.4 523.7,680.5 524.1,680.7 524.5,681.1 524.9,682.3 525.3,686.1 525.7,690.5 526.1,694.8 526.5,700.3 526.9,704.0 527.3,704.2 527.6,703.4 528.0,703.7 528.4,706.0 528.8,706.5 529.2,706.1 529.6,708.8 530.0,710.2 530.4,709.1 530.8,708.5 531.2,709.3 531.6,709.9 531.9,709.0 532.3,710.8 532.7,713.6 533.1,713.1 533.5,712.1 533.9,711.1 534.3,710.3 534.7,711.6 535.1,712.2 535.5,711.7 535.8,713.5 536.2,715.7 536.6,714.5 537.0,711.4 537.4,710.2 537.8,711.8 538.2,714.9 538.6,716.4 539.0,715.3 539.4,713.3 539.8,712.9 540.1,714.6 540.5,715.0 540.9,714.6 541.3,715.9 541.7,717.2 542.1,716.3 542.5,713.7 542.9,712.9 543.3,715.2 543.7,716.9 544.0,716.7 544.4,716.2 544.8,716.9 545.2,718.3 545.6,718.5 546.0,717.6 546.4,716.7 546.8,717.1 547.2,717.8 547.6,716.7 548.0,716.4 548.3,718.7 548.7,720.9 549.1,721.6 549.5,721.7 549.9,720.4 550.3,718.5 550.7,717.6 551.1,719.5 551.5,722.1 551.9,722.4 552.2,722.3 552.6,722.2 553.0,721.2 553.4,720.8 553.8,721.6 554.2,722.5 554.6,722.7 555.0,722.5 555.4,721.6 555.8,720.5 556.2,720.2 556.5,721.1 556.9,721.2 557.3,719.7 557.7,722.0 558.1,725.1 558.5,722.7 558.9,720.6 559.3,722.5 559.7,724.2 560.1,723.7 560.4,723.5 560.8,723.0 561.2,724.5 561.6,727.0 562.0,724.8 562.4,722.0 562.8,722.3 563.2,723.6 563.6,724.5 564.0,724.6 564.4,723.0 564.7,721.8 565.1,722.9 565.5,723.2 565.9,721.9 566.3,720.9 566.7,721.3 567.1,722.2 567.5,722.1 567.9,721.7 568.3,722.9 568.6,723.2 569.0,721.9 569.4,721.6 569.8,722.8 570.2,722.8 570.6,720.8 571.0,720.6 571.4,721.1 571.8,722.8 572.2,724.4 572.6,723.8 572.9,723.2 573.3,724.3 573.7,726.7 574.1,727.4 574.5,725.3 574.9,722.3 575.3,722.5 575.7,724.7 576.1,724.5 576.5,723.9 576.8,723.6 577.2,723.3 577.6,724.4 578.0,725.1 578.4,724.5 578.8,724.0 579.2,724.0 579.6,724.3 580.0,725.9 580.4,727.1 580.8,726.7 581.1,726.1 581.5,723.7 581.9,721.7 582.3,723.5 582.7,724.6 583.1,724.1 583.5,723.1 583.9,721.9 584.3,723.2 584.7,725.9 585.1,726.3 585.4,723.9 585.8,723.7 586.2,725.2 586.6,725.6 587.0,726.7 587.4,725.3 587.8,723.9 588.2,726.3 588.6,726.4 589.0,724.7 589.3,725.4 589.7,726.1 590.1,726.0 590.5,723.9 590.9,722.4 591.3,724.7 591.7,727.5 592.1,729.1 592.5,728.7 592.9,726.4 593.3,724.3 593.6,723.4 594.0,723.2 594.4,723.0 594.8,721.8 595.2,721.0 595.6,723.0 596.0,726.3 596.4,728.5 596.8,726.9 597.2,724.7 597.5,724.1 597.9,722.8 598.3,721.6 598.7,722.5 599.1,725.6 599.5,725.5 599.9,723.2 600.3,724.3 600.7,726.1 601.1,726.1 601.5,724.8 601.8,723.1 602.2,723.1 602.6,724.8 603.0,725.2 603.4,723.2 603.8,723.2 604.2,724.6 604.6,724.7 605.0,725.5 605.4,726.1 605.7,727.0 606.1,727.9 606.5,727.1 606.9,725.4 607.3,723.3 607.7,723.3 608.1,725.9 608.5,727.9 608.9,729.0 609.3,728.8 609.7,726.6 610.0,725.6 610.4,726.0 610.8,725.1 611.2,723.7 611.6,723.7 612.0,724.4 612.4,724.0 612.8,723.4 613.2,723.6 613.6,724.3 613.9,724.4 614.3,723.8 614.7,722.5 615.1,723.6 615.5,725.2 615.9,724.2 616.3,723.6 616.7,722.3 617.1,721.2 617.5,723.6 617.9,724.5 618.2,723.6 618.6,723.9 619.0,723.1 619.4,722.5 619.8,723.3 620.2,725.1 620.6,726.0 621.0,724.4 621.4,725.1 621.8,724.9 622.1,721.2 622.5,721.1 622.9,723.7 623.3,724.4 623.7,725.4 624.1,726.0 624.5,724.0 624.9,720.9 625.3,720.1 625.7,722.2 626.1,723.5 626.4,724.4 626.8,724.0 627.2,723.9 627.6,726.6 628.0,727.7 628.4,725.5 628.8,723.1 629.2,722.7 629.6,723.1 630.0,722.7 630.3,722.9 630.7,724.4 631.1,725.3 631.5,724.7 631.9,724.9 632.3,726.0 632.7,723.7 633.1,720.4 633.5,721.6 633.9,724.6 634.3,725.5 634.6,724.5 635.0,723.4 635.4,723.8 635.8,724.5 636.2,723.8 636.6,722.8 637.0,723.3 637.4,724.3 637.8,722.9 638.2,722.2 638.5,723.6 638.9,724.1 639.3,724.6 639.7,725.9 640.1,726.9 640.5,726.2 640.9,724.1 641.3,722.8 641.7,723.6 642.1,726.0 642.5,727.0 642.8,726.2 643.2,723.4 643.6,722.2 644.0,724.9 644.4,725.4 644.8,724.3 645.2,724.5 645.6,725.0 646.0,723.4 646.4,721.6 646.7,721.6 647.1,719.7 647.5,717.9 647.9,717.4 648.3,713.4 648.7,706.1 649.1,700.5 649.5,699.0 649.9,698.0 650.3,695.8 650.7,694.8 651.0,696.4 651.4,700.2 651.8,705.9 652.2,711.6 652.6,714.6 653.0,716.1 653.4,718.8 653.8,721.1 654.2,721.4 654.6,723.6 654.9,726.2 655.3,726.0 655.7,724.9 656.1,724.0 656.5,722.6 656.9,721.8 657.3,723.7 657.7,727.2 658.1,728.6 658.5,727.7 658.9,726.0 659.2,724.3 659.6,723.3 660.0,724.0 660.4,724.4 660.8,724.2 661.2,724.3 661.6,722.3 662.0,720.4 662.4,720.5 662.8,720.3 663.2,722.0 663.5,724.7 663.9,724.9 664.3,725.2 664.7,726.8 665.1,726.4 665.5,725.3 665.9,725.9 666.3,725.6 666.7,724.8 667.1,723.8 667.4,722.0 667.8,722.1 668.2,723.9 668.6,724.7 669.0,724.0 669.4,724.4 669.8,726.4 670.2,727.3 670.6,727.0 671.0,726.1 671.4,724.3 671.7,723.7 672.1,724.2 672.5,723.6 672.9,724.4 673.3,725.9 673.7,724.3 674.1,723.0 674.5,725.4 674.9,727.0 675.3,726.3 675.6,725.5 676.0,724.0 676.4,722.7 676.8,722.7 677.2,724.7 677.6,725.7 678.0,724.9 678.4,724.8 678.8,723.6 679.2,723.6 679.6,725.4 679.9,725.6 680.3,723.7 680.7,722.2 681.1,722.7 681.5,724.6 681.9,726.6 682.3,725.6 682.7,723.3 683.1,722.2 683.5,721.7 683.8,722.5 684.2,724.2 684.6,724.6 685.0,724.1 685.4,723.0 685.8,723.6 686.2,724.7 686.6,722.2 687.0,721.0 687.4,722.4 687.8,722.3 688.1,723.1 688.5,724.2 688.9,723.9 689.3,724.0 689.7,724.5 690.1,726.3 690.5,726.3 690.9,723.9 691.3,722.6 691.7,722.6 692.0,724.2 692.4,724.4 692.8,723.2 693.2,723.1 693.6,721.9 694.0,720.4 694.4,722.1 694.8,725.3 695.2,725.3 695.6,723.5 696.0,723.6 696.3,723.2 696.7,721.5 697.1,723.7 697.5,726.3 697.9,724.5 698.3,723.8 698.7,723.9 699.1,722.9 699.5,723.6 699.9,724.9 700.2,724.6 700.6,723.8 701.0,723.4 701.4,723.6 701.8,724.7 702.2,725.9 702.6,725.2 703.0,721.8 703.4,720.3 703.8,723.1 704.2,724.2 704.5,721.2 704.9,719.1 705.3,720.9 705.7,723.0 706.1,722.0 706.5,722.0 706.9,723.9 707.3,724.9 707.7,723.8 708.1,722.5 708.4,723.3 708.8,725.6 709.2,725.5 709.6,722.6 710.0,720.4 710.4,721.3 710.8,722.6 711.2,722.8 711.6,723.8 712.0,724.1 712.4,723.8 712.7,724.1 713.1,723.2 713.5,721.6 713.9,723.2 714.3,724.7 714.7,722.1 715.1,721.7 715.5,723.4 715.9,722.3 716.3,720.2 716.6,720.3 717.0,722.8 717.4,724.9 717.8,724.8 718.2,723.8 718.6,722.8 719.0,721.4 719.4,721.0 719.8,721.2 720.2,722.1 720.6,723.7 720.9,723.0 721.3,721.9 721.7,722.3 722.1,721.1 722.5,719.7 722.9,719.5 723.3,719.3 723.7,720.5 724.1,721.5 724.5,721.4 724.8,721.5 725.2,720.9 725.6,719.7 726.0,718.9 726.4,719.3 726.8,719.3 727.2,719.4 727.6,720.2 728.0,719.5 728.4,717.2 728.8,716.8 729.1,719.0 729.5,720.8 729.9,721.4 730.3,722.2 730.7,722.5 731.1,721.2 731.5,719.2 731.9,717.4 732.3,717.0 732.7,718.1 733.0,719.3 733.4,719.5 733.8,718.9 734.2,719.0 734.6,719.5 735.0,719.4 735.4,719.2 735.8,718.5 736.2,716.9 736.6,716.6 737.0,718.1 737.3,718.5 737.7,717.3 738.1,718.3 738.5,719.6 738.9,717.5 739.3,716.4 739.7,716.3 740.1,715.4 740.5,717.2 740.9,719.6 741.3,719.2 741.6,718.0 742.0,717.2 742.4,716.9 742.8,716.8 743.2,715.6 743.6,714.6 744.0,715.5 744.4,716.4 744.8,716.2 745.2,714.3 745.5,712.8 745.9,716.0 746.3,718.9 746.7,717.0 747.1,713.5 747.5,712.2 747.9,712.3 748.3,712.3 748.7,712.7 749.1,713.0 749.5,714.3 749.8,713.3 750.2,710.3 750.6,710.3 751.0,709.9 751.4,708.6 751.8,709.2 752.2,710.9 752.6,711.0 753.0,709.9 753.4,712.1 753.7,714.0 754.1,712.5 754.5,710.8 754.9,709.0 755.3,708.0 755.7,709.2 756.1,710.2 756.5,711.6 756.9,712.9 757.3,711.3 757.7,710.2 758.0,709.3 758.4,706.1 758.8,704.7 759.2,705.5 759.6,706.4 760.0,707.1 760.4,707.9 760.8,709.6 761.2,710.1 761.6,707.9 761.9,706.3 762.3,706.9 762.7,706.4 763.1,704.8 763.5,705.5 763.9,706.5 764.3,706.8 764.7,707.9 765.1,706.8 765.5,704.3 765.9,703.5 766.2,703.7 766.6,703.8 767.0,703.9 767.4,704.9 767.8,705.7 768.2,705.3 768.6,703.2 769.0,702.8 769.4,704.9 769.8,705.5 770.1,705.6 770.5,705.5 770.9,705.9 771.3,706.6 771.7,706.1 772.1,704.6 772.5,703.0 772.9,703.5 773.3,703.7 773.7,703.2 774.1,703.8 774.4,705.4 774.8,705.1 775.2,702.6 775.6,702.4 776.0,704.1 776.4,705.3 776.8,705.2 777.2,704.9 777.6,705.3 778.0,706.6 778.3,707.1 778.7,706.0 779.1,704.9 779.5,704.6 779.9,706.6 780.3,707.8 780.7,707.7 781.1,707.2 781.5,704.4 781.9,703.1 782.3,704.8 782.6,707.0 783.0,708.6 783.4,709.1 783.8,709.9 784.2,710.5 784.6,709.2 785.0,707.6 785.4,709.7 785.8,711.5 786.2,709.5 786.5,710.9 786.9,714.2 787.3,713.4 787.7,711.8 788.1,712.9 788.5,715.2 788.9,715.1 789.3,713.9 789.7,714.6 790.1,715.9 790.5,717.2 790.8,717.3 791.2,714.6 791.6,713.4 792.0,716.4 792.4,719.0 792.8,718.4 793.2,718.8 793.6,719.3 794.0,717.7 794.4,717.2 794.7,717.1 795.1,717.2 795.5,718.9 795.9,719.4 796.3,717.5 796.7,715.8 797.1,716.3 797.5,717.9 797.9,718.8 798.3,718.5 798.7,717.7 799.0,718.8 799.4,720.5 799.8,720.5 800.2,720.9 800.6,720.8 801.0,718.8 801.4,718.4 801.8,720.6 802.2,721.8 802.6,720.3 802.9,716.9 803.3,714.9 803.7,715.0 804.1,717.3 804.5,720.0 804.9,719.6 805.3,717.9 805.7,717.4 806.1,717.0 806.5,715.8 806.9,715.5 807.2,713.9 807.6,711.9 808.0,714.3 808.4,717.3 808.8,717.0 809.2,716.7 809.6,717.3 810.0,719.0 810.4,721.1 810.8,720.5 811.1,717.6 811.5,716.4 811.9,717.8 812.3,718.0 812.7,719.2 813.1,722.9 813.5,722.9 813.9,721.3 814.3,723.0 814.7,723.6 815.1,722.7 815.4,722.4 815.8,720.5 816.2,719.4 816.6,719.6 817.0,721.3 817.4,722.8 817.8,721.3 818.2,720.2 818.6,721.4 819.0,722.7 819.4,723.6 819.7,723.9 820.1,722.2 820.5,720.9 820.9,722.0 821.3,722.6 821.7,722.5 822.1,724.5 822.5,725.8 822.9,724.1 823.3,724.2 823.6,725.1 824.0,723.1 824.4,721.3 824.8,721.9 825.2,723.8 825.6,724.6 826.0,723.9 826.4,724.6 826.8,726.1 827.2,724.9 827.6,722.5 827.9,722.9 828.3,724.4 828.7,724.7 829.1,723.6 829.5,722.5 829.9,721.6 830.3,721.1 830.7,722.2 831.1,723.4 831.5,723.4 831.8,722.5 832.2,721.9 832.6,721.6 833.0,722.3 833.4,723.8 833.8,724.1 834.2,723.5 834.6,722.8 835.0,722.2 835.4,721.4 835.8,721.8 836.1,723.4 836.5,724.6 836.9,724.5 837.3,724.5 837.7,725.2 838.1,725.2 838.5,725.4 838.9,725.4 839.3,724.3 839.7,723.8 840.0,724.0 840.4,724.0 840.8,725.1 841.2,726.4 841.6,725.7 842.0,723.3 842.4,722.0 842.8,723.1 843.2,724.6 843.6,725.3 844.0,724.2 844.3,724.1 844.7,724.6 845.1,723.9 845.5,724.7 845.9,727.4 846.3,727.7 846.7,726.2 847.1,724.3 847.5,723.4 847.9,724.3 848.2,724.8 848.6,724.1 849.0,723.6 849.4,723.7 849.8,724.1 850.2,725.4 850.6,726.6 851.0,724.5 851.4,721.5 851.8,720.7 852.2,720.8 852.5,722.4 852.9,724.7 853.3,724.7 853.7,723.9 854.1,723.7 854.5,722.4 854.9,720.8 855.3,720.8 855.7,723.1 856.1,724.7 856.4,724.2 856.8,725.9 857.2,726.7 857.6,724.8 858.0,723.5 858.4,723.0 858.8,723.3 859.2,723.1 859.6,721.7 860.0,721.2 860.4,720.8 860.7,720.5 861.1,721.3 861.5,722.6 861.9,723.0 862.3,722.9 862.7,724.1 863.1,724.2 863.5,724.7 863.9,726.0 864.3,723.9 864.6,722.7 865.0,722.8 865.4,721.4 865.8,720.9 866.2,721.1 866.6,721.9 867.0,723.7 867.4,725.5 867.8,726.6 868.2,727.0 868.6,726.9 868.9,725.7 869.3,724.9 869.7,725.3 870.1,724.1 870.5,724.3 870.9,726.6 871.3,726.7 871.7,725.7 872.1,726.2 872.5,725.2 872.8,723.1 873.2,722.6 873.6,722.8 874.0,723.3 874.4,724.5 874.8,726.2 875.2,725.5 875.6,723.7 876.0,723.0 876.4,722.8 876.8,724.0 877.1,725.4 877.5,723.9 877.9,721.8 878.3,723.0 878.7,725.1 879.1,726.0 879.5,725.4 879.9,723.9 880.3,723.9 880.7,724.1 881.0,724.6 881.4,725.6 881.8,725.3 882.2,724.3 882.6,723.5 883.0,722.1 883.4,722.1 883.8,724.2 884.2,723.7 884.6,721.7 885.0,722.2 885.3,725.0 885.7,727.3 886.1,727.5 886.5,725.1 886.9,722.5 887.3,723.5 887.7,725.4 888.1,725.6 888.5,725.2 888.9,725.7 889.2,727.7 889.6,727.7 890.0,724.7 890.4,724.5 890.8,726.3 891.2,726.0 891.6,727.1 892.0,727.3 892.4,724.7 892.8,724.0 893.2,724.6 893.5,725.2 893.9,726.6 894.3,727.8 894.7,726.7 895.1,725.7 895.5,725.9 895.9,724.7 896.3,725.4 896.7,726.8 897.1,724.6 897.5,723.4 897.8,723.6 898.2,721.7 898.6,721.7 899.0,724.0 899.4,723.8 899.8,723.0 900.2,723.0 900.6,722.2 901.0,722.5 901.4,725.7 901.7,728.4 902.1,727.7 902.5,725.1 902.9,723.0 903.3,722.7 903.7,723.5 904.1,724.7 904.5,724.8 904.9,724.4 905.3,724.1 905.7,722.7 906.0,722.5 906.4,723.4 906.8,722.3 907.2,721.8 907.6,722.9 908.0,723.6 908.4,725.2 908.8,726.3 909.2,725.8 909.6,725.0 909.9,725.3 910.3,724.5 910.7,722.9 911.1,723.2 911.5,722.7 911.9,722.3 912.3,723.5 912.7,724.5 913.1,725.9 913.5,724.9 913.9,722.1 914.2,724.3 914.6,727.8 915.0,728.1 915.4,727.2 915.8,724.8 916.2,722.0 916.6,722.6 917.0,725.5 917.4,725.9 917.8,724.1 918.1,723.9 918.5,723.6 918.9,722.2 919.3,724.1 919.7,728.1 920.1,728.6 920.5,727.2 920.9,726.7 921.3,724.6 921.7,721.6 922.1,721.7 922.4,724.2 922.8,726.4 923.2,727.8 923.6,726.8 924.0,723.9 924.4,723.3 924.8,725.2 925.2,725.1 925.6,722.7 926.0,722.2 926.3,725.1 926.7,726.2 927.1,724.6 927.5,724.6 927.9,725.9 928.3,726.3 928.7,726.6 929.1,726.9 929.5,725.1 929.9,723.3 930.3,721.9 930.6,720.3 931.0,722.5 931.4,725.7 931.8,725.1 932.2,724.0 932.6,723.2 933.0,722.0 933.4,723.3 933.8,725.7 934.2,725.4 934.5,724.7 934.9,726.7 935.3,727.5 935.7,725.9 936.1,724.3 936.5,721.7 936.9,721.4 937.3,724.2 937.7,725.3 938.1,724.6 938.5,723.8 938.8,724.4 939.2,726.8 939.6,727.4 940.0,724.4 940.4,723.2 940.8,725.7 941.2,726.8 941.6,726.2 942.0,727.0 942.4,728.0 942.7,726.7 943.1,724.2 943.5,722.1 943.9,722.2 944.3,723.3 944.7,724.4 945.1,725.2" fill="none" stroke="#1f77b4" stroke-width="4.5" stroke-linejoin="round" stroke-linecap="round"/>
</g>
<!-- ticks -->
<g stroke="#000" stroke-width="1.4">
<line x1="147.00" y1="756" x2="147.00" y2="747.7"/>
<line x1="147.00" y1="2" x2="147.00" y2="9.8"/>
<line x1="303.28" y1="756" x2="303.28" y2="747.7"/>
<line x1="303.28" y1="2" x2="303.28" y2="9.8"/>
<line x1="459.56" y1="756" x2="459.56" y2="747.7"/>
<line x1="459.56" y1="2" x2="459.56" y2="9.8"/>
<line x1="615.84" y1="756" x2="615.84" y2="747.7"/>
<line x1="615.84" y1="2" x2="615.84" y2="9.8"/>
<line x1="772.12" y1="756" x2="772.12" y2="747.7"/>
<line x1="772.12" y1="2" x2="772.12" y2="9.8"/>
<line x1="928.40" y1="756" x2="928.40" y2="747.7"/>
<line x1="928.40" y1="2" x2="928.40" y2="9.8"/>
<line x1="55" y1="153.6" x2="61" y2="153.6"/>
<line x1="942" y1="153.6" x2="935.5" y2="153.6"/>
<line x1="55" y1="344.0" x2="61" y2="344.0"/>
<line x1="942" y1="344.0" x2="935.5" y2="344.0"/>
<line x1="55" y1="534.5" x2="61" y2="534.5"/>
<line x1="942" y1="534.5" x2="935.5" y2="534.5"/>
<line x1="55" y1="725.0" x2="61" y2="725.0"/>
<line x1="942" y1="725.0" x2="935.5" y2="725.0"/>
</g>
<!-- markers -->
<g fill="none" stroke="#000" stroke-width="1.9">
<circle cx="76.35" cy="93.9" r="4.80"/>
<circle cx="101.9" cy="348.9" r="4.75"/>
<circle cx="193.1" cy="286.9" r="4.75"/>
<circle cx="358.2" cy="343.1" r="4.65"/>
<circle cx="412.1" cy="293.6" r="4.65"/>
<circle cx="500.2" cy="244.2" r="4.65"/>
<circle cx="631.9" cy="355.4" r="4.65"/>
<circle cx="680.3" cy="347.3" r="4.65"/>
<circle cx="757.3" cy="356.1" r="4.65"/>
<circle cx="879.7" cy="355.1" r="4.65"/>
<circle cx="923.4" cy="339.5" r="4.65"/>
<circle cx="773.5" cy="75.6" r="4.70"/>
<path d="M108.70,163.55 L125.30,163.55 L117.00,149.34 Z"/>
<path d="M207.05,240.45 L223.95,240.45 L215.50,226.44 Z"/>
<path d="M521.55,246.15 L538.25,246.15 L529.90,232.04 Z"/>
<path d="M723.55,257.65 L740.25,257.65 L731.90,244.64 Z"/>
<path d="M767.95,161.35 L780.25,161.35 L774.10,150.64 Z"/>
</g>
<g fill="#000">
<circle cx="153.1" cy="194.5" r="9.80"/>
<circle cx="256.9" cy="317.0" r="9.95"/>
<circle cx="593.3" cy="259.9" r="9.75"/>
<circle cx="810.2" cy="312.0" r="9.80"/>
<circle cx="773.5" cy="116.1" r="7.55"/>
<path d="M208.90,248.00 L223.90,248.00 L216.40,260.80 Z"/>
<path d="M521.20,253.90 L536.00,253.90 L528.60,266.60 Z"/>
<path d="M585.90,277.20 L600.90,277.20 L593.40,289.90 Z"/>
<path d="M201.20,523.90 L220.40,523.90 L210.80,540.70 Z"/>
<path d="M525.00,663.10 L544.20,663.10 L534.60,679.80 Z"/>
<path d="M762.70,663.10 L781.70,663.10 L772.20,679.50 Z"/>
<path d="M765.00,29.60 L779.80,29.60 L772.40,42.90 Z"/>
</g>
<!-- frame -->
<g stroke="#000" fill="none" stroke-linecap="square">
<line x1="54.45" y1="1.3" x2="54.45" y2="756.6" stroke-width="2.8"/>
<line x1="942.7" y1="1.3" x2="942.7" y2="756.6" stroke-width="2.6"/>
<line x1="54.45" y1="1.3" x2="942.7" y2="1.3" stroke-width="2.6"/>
<line x1="54.45" y1="756.6" x2="942.7" y2="756.6" stroke-width="2.4"/>
</g>
<!-- tick labels -->
<g font-size="29" fill="#000">
<text x="132.75" y="786" textLength="30.75" lengthAdjust="spacingAndGlyphs">40</text>
<text x="289.03" y="786" textLength="30.75" lengthAdjust="spacingAndGlyphs">50</text>
<text x="445.31" y="786" textLength="30.75" lengthAdjust="spacingAndGlyphs">60</text>
<text x="601.59" y="786" textLength="30.75" lengthAdjust="spacingAndGlyphs">70</text>
<text x="757.87" y="786" textLength="30.75" lengthAdjust="spacingAndGlyphs">80</text>
<text x="914.15" y="786" textLength="30.75" lengthAdjust="spacingAndGlyphs">90</text>
</g>
<text x="408.9" y="828" font-size="37" fill="#000" textLength="141.8" lengthAdjust="spacingAndGlyphs">2 Theta [</text>
<circle cx="563.15" cy="807.15" r="4.1" fill="none" stroke="#000" stroke-width="1.4"/>
<text x="578.6" y="828" font-size="37" fill="#000" textLength="8.4" lengthAdjust="spacingAndGlyphs">]</text>
<text transform="translate(27.4,592.6) rotate(-90)" font-size="37.8" fill="#000" textLength="317" lengthAdjust="spacingAndGlyphs">Intensity [Arb. U.]</text>
<text x="883.3" y="429.3" font-size="48" fill="#d62728" textLength="57.1" lengthAdjust="spacingAndGlyphs">(b)</text>
<text x="879.4" y="706.1" font-size="48" fill="#1f77b4" textLength="54.2" lengthAdjust="spacingAndGlyphs">(a)</text>
<!-- legend -->
<g font-size="31.8" fill="#000">
<text x="791.7" y="46" textLength="132.4" lengthAdjust="spacingAndGlyphs">&#945;-(Fe,Pd)</text>
<text x="789.9" y="85.3" textLength="34.3" lengthAdjust="spacingAndGlyphs">Fe</text>
<text x="824.5" y="90.8" font-size="22.2">3</text>
<text x="835.8" y="85.6">O</text>
<text x="859.7" y="91.2" font-size="21.5">4</text>
<text x="789.9" y="126.2" textLength="71.4" lengthAdjust="spacingAndGlyphs">FePd</text>
<text x="861.6" y="131.9" font-size="21.9">3</text>
<text x="793.2" y="166.4">Ag</text>
</g>
</svg>
</body></html>
